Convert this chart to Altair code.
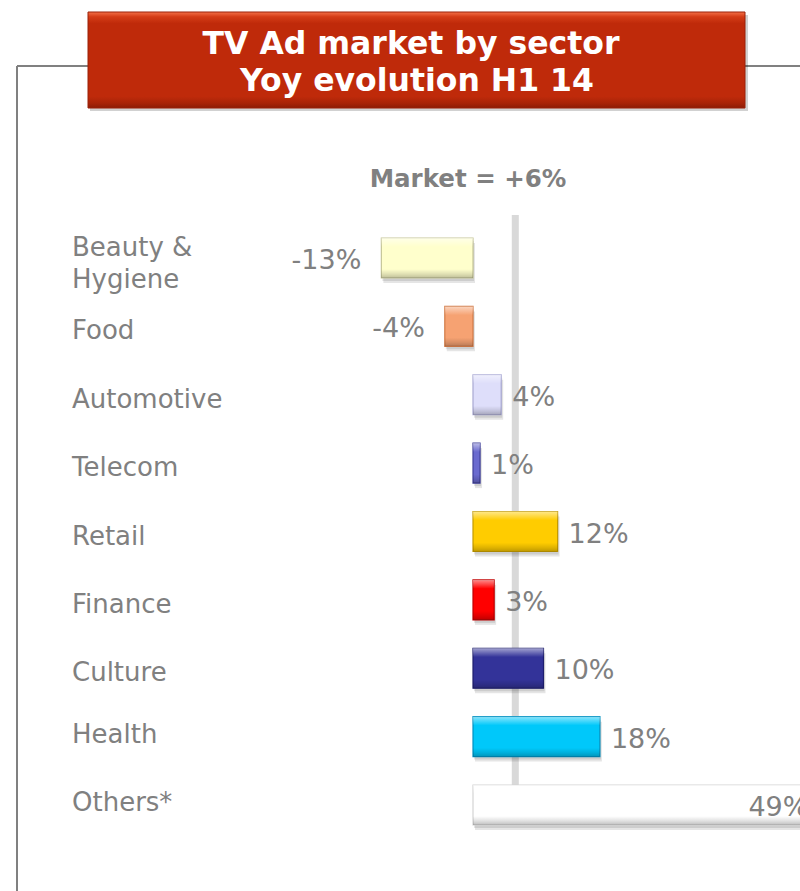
import altair as alt
import pandas as pd

# ---------------- data ----------------
sectors = ["Beauty &\nHygiene", "Food", "Automotive", "Telecom", "Retail",
           "Finance", "Culture", "Health", "Others*"]
growth = [-13, -4, 4, 1, 12, 3, 10, 18, 49]
market_growth = [6]
title_lines = ["TV Ad market by sector", "Yoy evolution H1 14"]
market_label = ["Market = +6%"]

# ---------------- styles ----------------
bar_fill = ["#ffffcc", "#f6a272", "#dedefa", "#6a6acf", "#ffcc00",
            "#ff0000", "#333399", "#00c8fa", "#ffffff"]
bar_edge = ["#c6c698", "#d27a46", "#a8a8d2", "#40409a", "#c49a00",
            "#c00000", "#1e1e6e", "#0090c0", "#d4d4d4"]
GREY = "#808080"
FONT = "DejaVu Sans"

df = pd.DataFrame({"sector": sectors, "growth": growth})
mk = pd.DataFrame({"market": market_growth, "label": market_label})
one = pd.DataFrame({"k": [0]})

PX_PER_PCT = 7.05
ZERO_X = 473
x_scale = alt.Scale(domain=[0, 49], range=[ZERO_X, ZERO_X + 49 * PX_PER_PCT],
                    nice=False, zero=False)
y_scale = alt.Scale(domain=sectors, range=[238, 825], paddingInner=0.415,
                    paddingOuter=0)

X = alt.X("growth:Q", scale=x_scale, axis=None)
X2 = alt.X2(datum=0)
Y = alt.Y("sector:N", scale=y_scale, axis=None, sort=None)

# ---------------- frame & title ----------------
frame_h = alt.Chart(one).mark_rule(color=GREY, strokeWidth=2).encode(
    x=alt.value(17), x2=alt.value(800), y=alt.value(66), y2=alt.value(66))
frame_v = alt.Chart(one).mark_rule(color=GREY, strokeWidth=2).encode(
    x=alt.value(17), x2=alt.value(17), y=alt.value(66), y2=alt.value(891))

title_grad = alt.LinearGradient(
    gradient="linear", x1=0, x2=0, y1=0, y2=1,
    stops=[alt.GradientStop(color="#f47048", offset=0),
           alt.GradientStop(color="#d43c16", offset=0.05),
           alt.GradientStop(color="#bf2a0a", offset=0.12),
           alt.GradientStop(color="#bf2a0a", offset=0.88),
           alt.GradientStop(color="#a82408", offset=0.95),
           alt.GradientStop(color="#8c1c06", offset=1)])
title_shadow = alt.Chart(one).mark_rect(color="#000000", opacity=0.18).encode(
    x=alt.value(90), x2=alt.value(748), y=alt.value(15), y2=alt.value(111))
title_box = alt.Chart(one).mark_rect(color=title_grad, stroke="#9a2008",
                                     strokeWidth=1).encode(
    x=alt.value(88), x2=alt.value(745), y=alt.value(12), y2=alt.value(108))
title1 = alt.Chart(one).mark_text(
    text=title_lines[0], font=FONT, fontSize=31.5, fontWeight="bold",
    color="white", align="center", baseline="middle").encode(
    x=alt.value(411), y=alt.value(45))
title2 = alt.Chart(one).mark_text(
    text=title_lines[1], font=FONT, fontSize=31.5, fontWeight="bold",
    color="white", align="center", baseline="middle").encode(
    x=alt.value(417), y=alt.value(82))

# ---------------- market line ----------------
market_text = alt.Chart(mk).mark_text(
    font=FONT, fontSize=24.5, fontWeight="bold", color=GREY,
    align="center", baseline="middle").encode(
    x=alt.value(468), y=alt.value(180), text="label:N")
market_rule = alt.Chart(mk).mark_rule(color="#d9d9d9", strokeWidth=7).encode(
    x=alt.X("market:Q", scale=x_scale, axis=None),
    y=alt.value(215), y2=alt.value(785))

# ---------------- bars ----------------
base = alt.Chart(df)
shadow1 = base.mark_bar(color="#000000", opacity=0.10, yOffset=5,
                        xOffset=2, x2Offset=2).encode(x=X, x2=X2, y=Y)
shadow2 = base.mark_bar(color="#000000", opacity=0.10, yOffset=3,
                        xOffset=1, x2Offset=1).encode(x=X, x2=X2, y=Y)
bars = base.mark_bar(strokeWidth=1.2).encode(
    x=X, x2=X2, y=Y,
    color=alt.Color("sector:N", scale=alt.Scale(domain=sectors, range=bar_fill),
                    legend=None),
    stroke=alt.Stroke("sector:N", scale=alt.Scale(domain=sectors, range=bar_edge),
                      legend=None))
bevel = alt.LinearGradient(
    gradient="linear", x1=0, x2=0, y1=0, y2=1,
    stops=[alt.GradientStop(color="rgba(255,255,255,0.55)", offset=0),
           alt.GradientStop(color="rgba(255,255,255,0.25)", offset=0.12),
           alt.GradientStop(color="rgba(255,255,255,0)", offset=0.22),
           alt.GradientStop(color="rgba(0,0,0,0)", offset=0.78),
           alt.GradientStop(color="rgba(0,0,0,0.12)", offset=0.9),
           alt.GradientStop(color="rgba(0,0,0,0.25)", offset=1)])
gloss = base.mark_bar(color=bevel).encode(x=X, x2=X2, y=Y)

# ---------------- labels ----------------
def cat_layer(filter_expr, dy):
    return base.transform_filter(filter_expr).mark_text(
        font=FONT, fontSize=26, color=GREY, align="left", baseline="middle",
        dy=dy, lineBreak="\n", lineHeight=32).encode(
        x=alt.value(72), y=Y, text="sector:N")

cat_multi = cat_layer("indexof(datum.sector, '\\n') >= 0", -10)
cat_mid = cat_layer("indexof(datum.sector, '\\n') < 0 && "
                    "indexof(['Health', 'Others*'], datum.sector) < 0", 5)
cat_low = cat_layer("indexof(['Health', 'Others*'], datum.sector) >= 0", -2)

lab = base.transform_calculate(label="datum.growth + '%'")
pos_labels = lab.transform_filter("datum.growth >= 0 && datum.growth < 40").mark_text(
    font=FONT, fontSize=27, color=GREY, align="left", baseline="middle",
    dx=11, dy=3).encode(x=X, y=Y, text="label:N")
neg_labels = lab.transform_filter("datum.growth < 0").mark_text(
    font=FONT, fontSize=27, color=GREY, align="right", baseline="middle",
    dx=-20, dy=3).encode(x=X, y=Y, text="label:N")
big_labels = lab.transform_filter("datum.growth >= 40").mark_text(
    font=FONT, fontSize=27, color=GREY, align="right", baseline="middle",
    dx=-10, dy=3).encode(x=X, y=Y, text="label:N")

chart = alt.layer(
    frame_h, frame_v, title_shadow, title_box, title1, title2,
    market_text, market_rule,
    shadow1, shadow2, bars, gloss,
    cat_multi, cat_mid, cat_low, pos_labels, neg_labels, big_labels,
).properties(
    width=800, height=891, padding=0,
    autosize=alt.AutoSizeParams(type="none"),
    background="white",
).configure_view(stroke=None)

chart.save("out.html", embed_options={"renderer": "svg", "actions": False})
